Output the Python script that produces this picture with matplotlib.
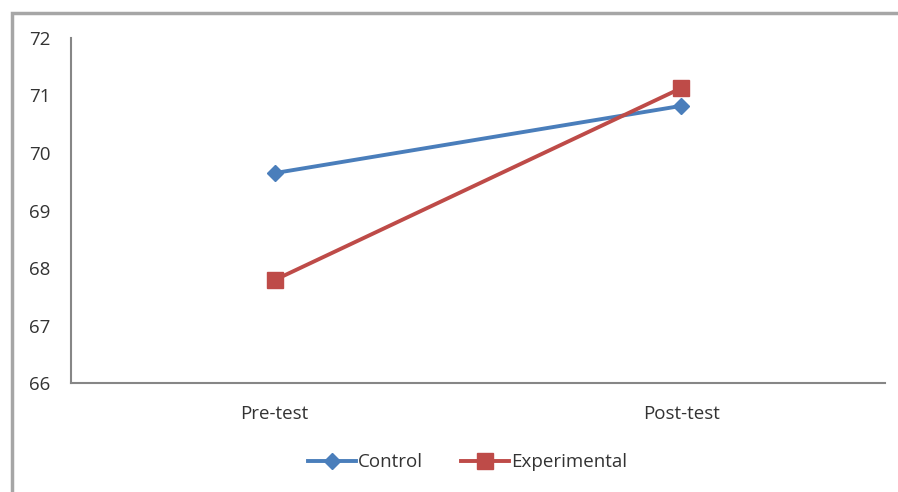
import matplotlib.pyplot as plt
from matplotlib.patches import Rectangle

categories = ["Pre-test", "Post-test"]
control = [69.65, 70.82]
experimental = [67.79, 71.13]

plt.rcParams['font.family'] = ['Open Sans', 'DejaVu Sans']

fig = plt.figure(figsize=(8.98, 4.92), dpi=100)
ax = fig.add_axes([0.0791, 0.2215, 0.9064, 0.7013])

# outer chart border (only top and left edges fall inside the image)
fig.patches.append(Rectangle((12 / 898, -0.1), 1.2, 1.1 - 13 / 492, transform=fig.transFigure,
                             fill=False, edgecolor="#a6a6a6", linewidth=2.5))

x = range(len(categories))
ax.plot(x, control, color="#4a7ebb", linewidth=2.8, marker="D", markersize=8,
        label="Control")
ax.plot(x, experimental, color="#be4b48", linewidth=2.8, marker="s", markersize=11,
        label="Experimental")

ax.set_xlim(-0.5, 1.5)
ax.set_ylim(66, 72)
ax.set_yticks(range(66, 73))
ax.set_xticks(list(x))
ax.set_xticklabels(categories)

for side in ["top", "right"]:
    ax.spines[side].set_visible(False)
for side in ["left", "bottom"]:
    ax.spines[side].set_color("#868686")
    ax.spines[side].set_linewidth(1.5)
ax.tick_params(axis="both", length=0, labelsize=13.5, colors="#333333")
ax.tick_params(axis="y", pad=15)
ax.tick_params(axis="x", pad=16)

ax.legend(loc="center", bbox_to_anchor=(0.487, -0.23), ncol=2, frameon=False,
          fontsize=13.5, handlelength=2.6, handletextpad=0.1, columnspacing=2.0,
          labelcolor="#333333")

fig.savefig("out.png", dpi=100)
